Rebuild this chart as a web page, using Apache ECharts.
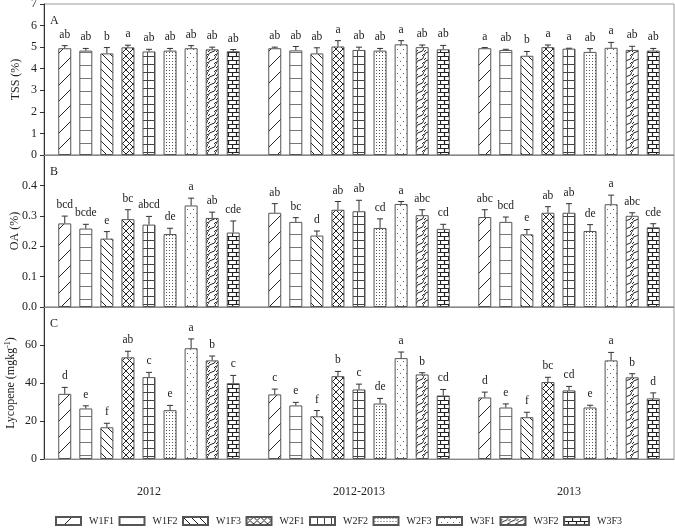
<!DOCTYPE html>
<html><head><meta charset="utf-8">
<script src="https://cdn.jsdelivr.net/npm/echarts@6/dist/echarts.min.js"></script>
<style>html,body{margin:0;padding:0;background:#fff}#c{width:675px;height:531px}</style>
</head><body><div id="c"></div>
<script>
// ---------- data ----------
const years = ['2012', '2012-2013', '2013'];
const treatments = ['W1F1','W1F2','W1F3','W2F1','W2F2','W2F3','W3F1','W3F2','W3F3'];

const tssMean = [
  [4.95, 4.84, 4.71, 4.99, 4.80, 4.84, 4.95, 4.90, 4.81],
  [4.95, 4.85, 4.71, 5.03, 4.87, 4.84, 5.13, 5.00, 4.90],
  [4.95, 4.87, 4.60, 5.00, 4.93, 4.78, 4.97, 4.87, 4.84]
];
const tssErr = [
  [0.12, 0.10, 0.27, 0.10, 0.10, 0.10, 0.12, 0.10, 0.08],
  [0.05, 0.18, 0.26, 0.27, 0.13, 0.10, 0.17, 0.10, 0.18],
  [0.03, 0.03, 0.20, 0.10, 0.02, 0.15, 0.25, 0.17, 0.10]
];
const tssLetters = [
  ['ab','ab','b','a','ab','ab','ab','ab','ab'],
  ['ab','ab','ab','a','ab','ab','a','ab','ab'],
  ['a','ab','b','a','a','ab','a','ab','ab']
];

const oaMean = [
  [0.275, 0.258, 0.225, 0.289, 0.271, 0.240, 0.334, 0.293, 0.245],
  [0.310, 0.280, 0.235, 0.320, 0.315, 0.260, 0.339, 0.302, 0.257],
  [0.296, 0.280, 0.239, 0.310, 0.310, 0.250, 0.338, 0.300, 0.262]
];
const oaErr = [
  [0.024, 0.014, 0.023, 0.031, 0.027, 0.019, 0.024, 0.019, 0.038],
  [0.030, 0.014, 0.015, 0.027, 0.036, 0.030, 0.008, 0.018, 0.015],
  [0.024, 0.016, 0.016, 0.020, 0.030, 0.021, 0.030, 0.010, 0.012]
];
const oaLetters = [
  ['bcd','bcde','e','bc','abcd','de','a','ab','cde'],
  ['ab','bc','d','ab','ab','cd','a','abc','cd'],
  ['abc','bcd','e','ab','ab','de','a','abc','cde']
];

const lycMean = [
  [34.3, 26.6, 16.7, 53.5, 43.1, 25.7, 58.3, 51.9, 39.9],
  [34.0, 28.2, 22.5, 43.6, 36.6, 29.2, 53.1, 44.5, 33.4],
  [32.4, 27.1, 22.0, 40.5, 36.1, 27.1, 51.9, 43.0, 31.9]
];
const lycErr = [
  [3.4, 1.4, 2.1, 3.2, 2.5, 2.5, 4.9, 2.3, 4.1],
  [2.8, 1.6, 3.0, 2.5, 2.8, 2.7, 3.2, 0.9, 3.2],
  [2.8, 1.9, 2.6, 2.5, 2.1, 1.2, 4.2, 1.9, 2.9]
];
const lycLetters = [
  ['d','e','f','ab','c','e','a','b','c'],
  ['c','e','f','b','c','de','a','b','cd'],
  ['d','e','f','bc','cd','e','a','b','d']
];

const panelLabels = ['A', 'B', 'C'];

// ---------- styles ----------
const FONT = '"Liberation Serif", "Times New Roman", serif';
const BAR_W = 13;
const BAR_GAP = 0.62;
const PITCH = BAR_W * (1 + BAR_GAP);

function makePattern(w, h, draw) {
  const c = document.createElement('canvas');
  c.width = w; c.height = h;
  const ctx = c.getContext('2d');
  ctx.fillStyle = '#fff'; ctx.fillRect(0, 0, w, h);
  ctx.strokeStyle = '#222'; ctx.fillStyle = '#222'; ctx.lineWidth = 1;
  draw(ctx, w, h);
  return { image: c, repeat: 'repeat' };
}
const patterns = [
  makePattern(16, 16, (g) => { g.beginPath(); g.moveTo(-1, 17); g.lineTo(17, -1); g.stroke(); }),
  makePattern(4, 13, (g) => { g.strokeStyle = '#777'; g.beginPath(); g.moveTo(0, 0.5); g.lineTo(4, 0.5); g.stroke(); }),
  makePattern(8, 8, (g) => { g.beginPath(); g.moveTo(-1, -1); g.lineTo(9, 9); g.stroke(); }),
  makePattern(7, 7, (g) => { g.beginPath(); g.moveTo(-1, -1); g.lineTo(8, 8); g.moveTo(-1, 8); g.lineTo(8, -1); g.stroke(); }),
  makePattern(7, 8, (g) => { g.strokeStyle = '#444'; g.beginPath(); g.moveTo(0, 0.5); g.lineTo(7, 0.5); g.moveTo(0.5, 0); g.lineTo(0.5, 8); g.stroke(); }),
  makePattern(3, 3, (g) => { g.fillStyle = '#555'; g.fillRect(1, 1, 1, 1); }),
  makePattern(6, 8, (g) => { g.fillStyle = '#666'; g.fillRect(1, 1, 1, 1); g.fillRect(4, 5, 1, 1); }),
  makePattern(8, 8, (g) => { g.beginPath(); g.moveTo(0, 8); g.quadraticCurveTo(1, 4, 4, 4); g.quadraticCurveTo(7, 4, 8, 0); g.stroke(); g.beginPath(); g.moveTo(0, 4); g.lineTo(2, 2); g.moveTo(6, 8); g.lineTo(8, 6); g.stroke(); }),
  makePattern(8, 8, (g) => { g.lineWidth = 1.2; g.beginPath(); g.moveTo(0, 0.5); g.lineTo(8, 0.5); g.moveTo(0, 4.5); g.lineTo(8, 4.5); g.moveTo(0.5, 0); g.lineTo(0.5, 4.5); g.moveTo(4.5, 4.5); g.lineTo(4.5, 8); g.stroke(); })
];

const panels = [
  { mean: tssMean, err: tssErr, letters: tssLetters, name: 'TSS (%)', min: 0, max: 7, interval: 1, fmt: v => String(v), showMax: true, top: 4, height: 151, nameGap: 22 },
  { mean: oaMean, err: oaErr, letters: oaLetters, name: 'OA (%)', min: 0, max: 0.5, interval: 0.1, fmt: v => v.toFixed(1), showMax: false, top: 155, height: 152, nameGap: 23 },
  { mean: lycMean, err: lycErr, letters: lycLetters, name: 'Lycopene (mgkg{sup|-1})', min: 0, max: 80, interval: 20, fmt: v => String(v), showMax: false, top: 307, height: 152, nameGap: 26 }
];

const grid = [], xAxis = [], yAxis = [], series = [], title = [];
panels.forEach((p, pi) => {
  grid.push({ left: 44, right: 1, top: p.top, height: p.height, containLabel: false, outerBoundsMode: 'none',
    show: true, borderColor: '#999', borderWidth: 1, backgroundColor: 'transparent' });
  xAxis.push({
    type: 'category', gridIndex: pi, data: years,
    axisLine: { lineStyle: { color: '#888', width: 1 } },
    axisTick: { show: false },
    axisLabel: { show: pi === 2, margin: 27, fontSize: 12, color: '#222', fontFamily: FONT }
  });
  yAxis.push({
    type: 'value', gridIndex: pi, min: p.min, max: p.max, interval: p.interval,
    name: p.name, nameLocation: 'middle', nameGap: p.nameGap, nameMoveOverlap: false,
    nameTextStyle: { fontSize: 12, color: '#222', fontFamily: FONT,
      rich: { sup: { fontSize: 8, verticalAlign: 'top', color: '#222', fontFamily: FONT, padding: [0, 0, 6, 0] } } },
    axisLine: { show: true, lineStyle: { color: '#333', width: 1 } },
    axisTick: { show: true, inside: false, length: 4, lineStyle: { color: '#333' } },
    axisLabel: { fontSize: 12, color: '#222', fontFamily: FONT, margin: 7, formatter: p.fmt, showMaxLabel: p.showMax },
    splitLine: { show: false }
  });
  title.push({ text: panelLabels[pi], left: 50, top: p.top + 11, padding: 0,
    textStyle: { fontSize: 12, fontWeight: 'normal', color: '#222', fontFamily: FONT } });

  treatments.forEach((t, ti) => {
    series.push({
      type: 'bar', name: t, xAxisIndex: pi, yAxisIndex: pi,
      barWidth: BAR_W, barGap: (BAR_GAP * 100) + '%',
      data: years.map((y, yi) => p.mean[yi][ti]),
      itemStyle: { color: patterns[ti], borderColor: '#555', borderWidth: 1 },
      emphasis: { disabled: true }, animation: false
    });
  });

  const errData = [];
  const errLetters = [];
  years.forEach((y, yi) => treatments.forEach((t, ti) => {
    errData.push([yi, ti, p.mean[yi][ti], p.err[yi][ti]]);
    errLetters.push(p.letters[yi][ti]);
  }));
  series.push({
    type: 'custom', name: 'err' + pi, xAxisIndex: pi, yAxisIndex: pi, z: 5,
    data: errData, animation: false, silent: true,
    encode: { x: 0, y: 2 },
    renderItem: (params, api) => {
      const c = api.value(0), t = api.value(1), m = api.value(2), e = api.value(3);
      const base = api.coord([c, m]);
      const top = api.coord([c, m + e]);
      const x = base[0] + (t - 4) * PITCH;
      return {
        type: 'group', children: [
          { type: 'line', shape: { x1: x, y1: base[1], x2: x, y2: top[1] }, style: { stroke: '#333', lineWidth: 1 } },
          { type: 'line', shape: { x1: x - 3, y1: top[1], x2: x + 3, y2: top[1] }, style: { stroke: '#333', lineWidth: 1 } },
          { type: 'text', style: { text: errLetters[params.dataIndex], x: x, y: top[1] - 5,
              align: 'center', verticalAlign: 'bottom', fontSize: 11.5, fontFamily: FONT, fill: '#222' } }
        ]
      };
    }
  });
});

const option = {
  backgroundColor: '#fff',
  animation: false,
  title: title,
  grid: grid, xAxis: xAxis, yAxis: yAxis, series: series,
  legend: {
    data: treatments, left: 50, top: 511, icon: 'rect',
    itemWidth: 25, itemHeight: 8, itemGap: 4.5,
    textStyle: { fontSize: 10, color: '#222', fontFamily: FONT, padding: [0, 0, 0, 3] },
    selectedMode: false
  }
};
const chart = echarts.init(document.getElementById('c'));
chart.setOption(option);
</script></body></html>
